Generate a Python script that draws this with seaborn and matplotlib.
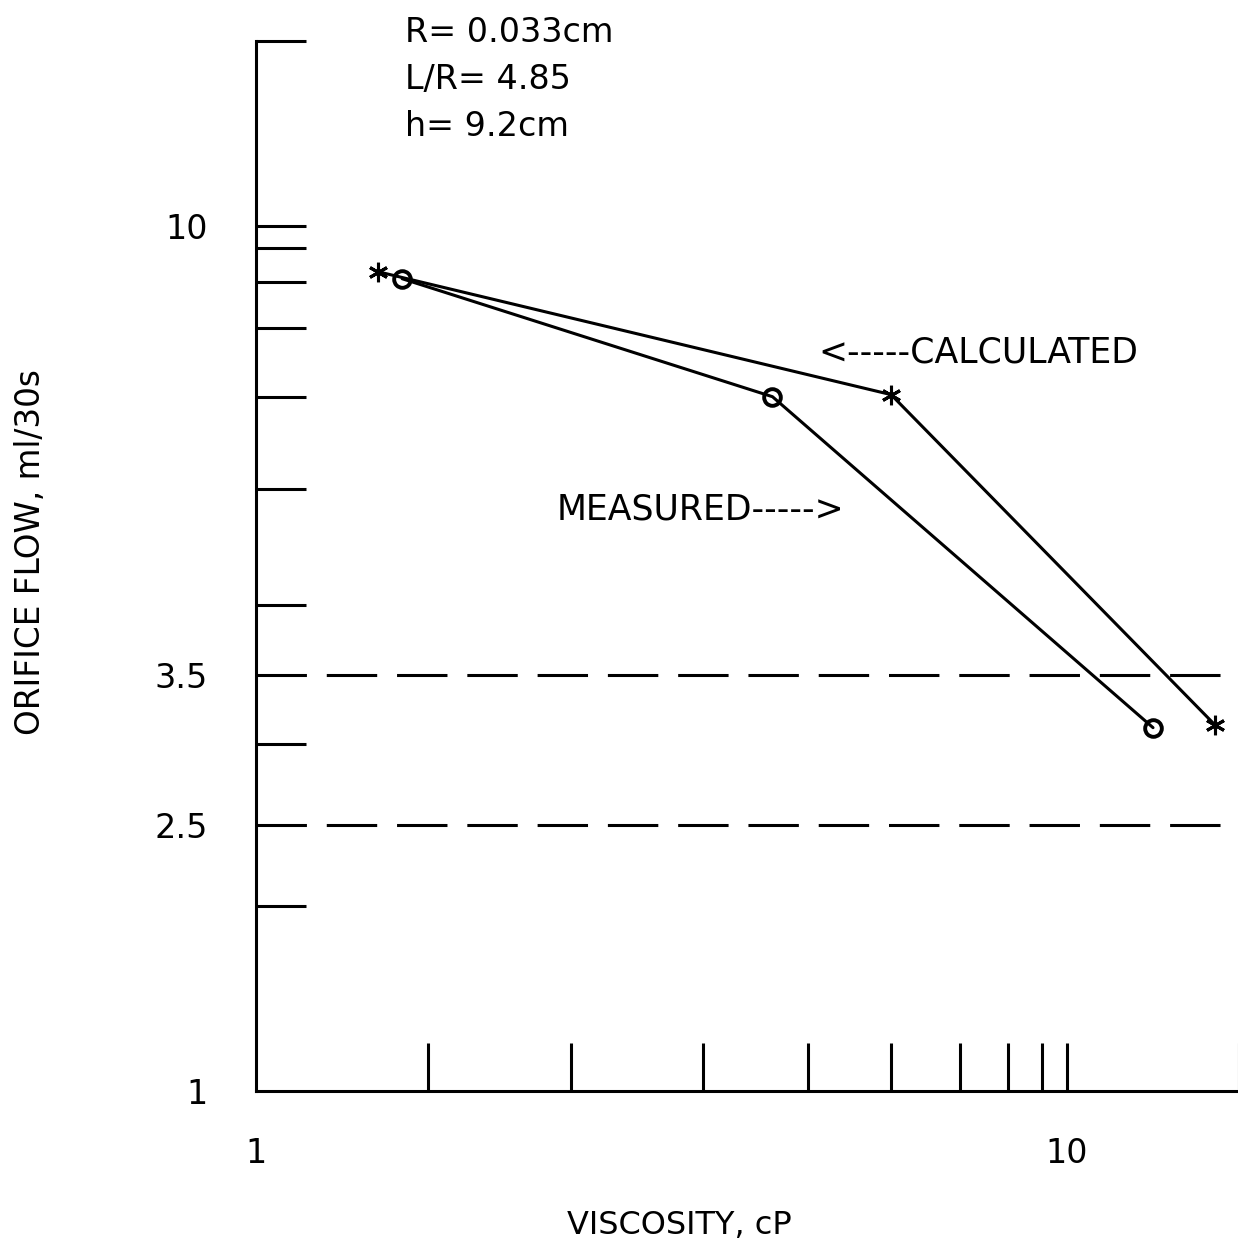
import numpy as np
import pandas as pd
import matplotlib
matplotlib.use('Agg')
import matplotlib.pyplot as plt
import seaborn as sns

# viscosity (cP) vs orifice flow (ml/30s)
calc_visc = [1.71, 6.0, 18.6]
calc_flow = [8.30, 6.03, 3.14]
meas_visc = [1.85, 4.66, 15.0]
meas_flow = [8.09, 6.00, 3.12]

# horizontal reference levels
limit_flows = [3.5, 2.5]

# tick marks and labelled values
x_ticks = [2, 3, 4, 5, 6, 7, 8, 9, 10, 20]
y_ticks = [2, 3, 4, 5, 6, 7, 8, 9, 10, 20]
x_labels = {1: '1', 10: '10'}
y_labels = {1: '1', 2.5: '2.5', 3.5: '3.5', 10: '10'}

params = ['R= 0.033cm', 'L/R= 4.85', 'h= 9.2cm']

# the old plotter spaces 1..10 inside each decade in its own way,
# so the axes use a piecewise scale (fraction of a decade per mantissa)
MANT = np.arange(1, 11)
X_FRAC = [0, .212, .388, .551, .681, .783, .868, .927, .969, 1]
Y_FRAC = [0, .2144, .4009, .562, .6964, .803, .883, .936, .9745, 1]


def make_scale(frac):
    def fwd(v):
        v = np.clip(np.asarray(v, float), 1e-9, None)
        d = np.floor(np.log10(v) + 1e-12)
        m = v / 10 ** d
        return d + np.interp(m, MANT, frac)

    def inv(p):
        p = np.asarray(p, float)
        d = np.floor(p)
        return np.interp(p - d, frac, MANT) * 10 ** d
    return fwd, inv


sns.set_style('white')
plt.rcParams['font.family'] = ['DejaVu Sans', 'sans-serif']
plt.rcParams['text.color'] = 'black'

W, H = 1238, 1248
fig = plt.figure(figsize=(W / 100, H / 100), dpi=100)
ax = fig.add_axes([256 / W, 1 - 1091 / H, (1239 - 256) / W, (1091 - 41) / H])

df_calc = pd.DataFrame({'visc': calc_visc, 'flow': calc_flow})
df_meas = pd.DataFrame({'visc': meas_visc, 'flow': meas_flow})

sns.lineplot(data=df_calc, x='visc', y='flow', ax=ax, color='black', lw=2.2,
             sort=False, marker=(6, 2, 0), ms=14, mew=2.2, mec='black', mfc='none')
sns.lineplot(data=df_meas, x='visc', y='flow', ax=ax, color='black', lw=2.2,
             sort=False, marker='o', ms=12, mew=2.8, mec='black', mfc='none')

for f in limit_flows:
    ax.axhline(f, color='black', lw=2.2, dashes=(16.5, 6.5))

ax.set_xscale('function', functions=make_scale(X_FRAC))
ax.set_yscale('function', functions=make_scale(Y_FRAC))
ax.set_xlim(1, 20)
ax.set_ylim(1, 20)
ax.set(xlabel='', ylabel='')

ax.set_xticks(list(x_labels), labels=list(x_labels.values()))
ax.set_yticks(list(y_labels), labels=list(y_labels.values()))
ax.set_xticks(x_ticks, minor=True)
ax.set_yticks(y_ticks, minor=True)
ax.xaxis.remove_overlapping_locs = False
ax.yaxis.remove_overlapping_locs = False
ax.tick_params(which='both', bottom=True, left=True, top=False, right=False)
ax.tick_params(which='major', length=0, labelsize=24, labelcolor='black')
ax.tick_params(axis='y', which='major', pad=35)
ax.tick_params(axis='x', which='major', pad=33)
ax.tick_params(axis='y', which='minor', direction='in', length=36, width=2.2, color='black')
ax.tick_params(axis='x', which='minor', direction='in', length=34.5, width=2.2, color='black')

sns.despine(ax=ax)
for side in ['left', 'bottom']:
    ax.spines[side].set_linewidth(2.2)
    ax.spines[side].set_color('black')

for i, p in enumerate(params):
    fig.text(405 / W, 1 - (42 + 47 * i) / H, p, fontsize=24, va='baseline', ha='left')

fig.text(818 / W, 1 - 362 / H, '<-----CALCULATED', fontsize=25, va='baseline', ha='left')
fig.text(557 / W, 1 - 519 / H, 'MEASURED----->', fontsize=25, va='baseline', ha='left')

fig.text(31 / W, 1 - 552 / H, 'ORIFICE FLOW, ml/30s', fontsize=23.5, rotation=90,
         ha='center', va='center')
fig.text(679 / W, 1 - 1225 / H, 'VISCOSITY, cP', fontsize=23, ha='center', va='center')

fig.savefig('out.png', dpi=100, facecolor='white')
